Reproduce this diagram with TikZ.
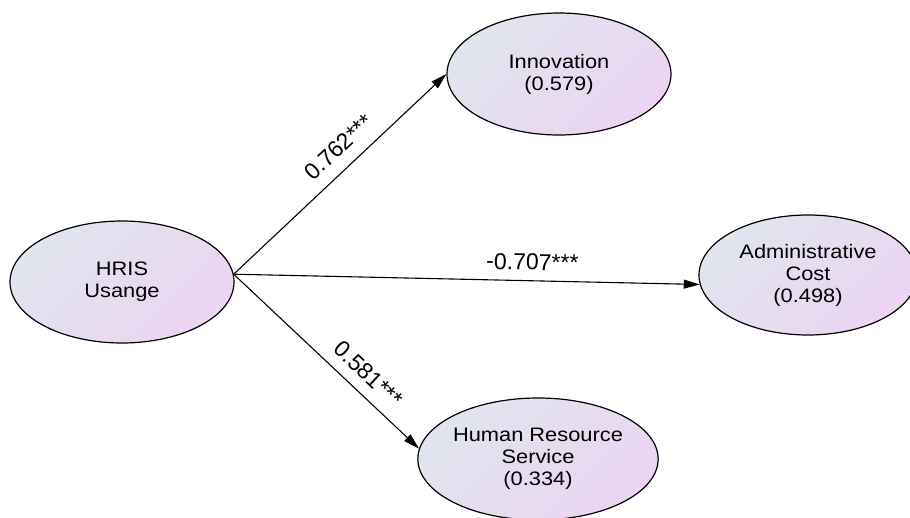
\documentclass[tikz,border=0pt]{standalone}
\usepackage{fontspec}
\setmainfont{Liberation Sans}
\newfontfamily\nodefont[FakeStretch=1.12]{Liberation Sans}
\usetikzlibrary{shapes.geometric,arrows.meta}
\definecolor{shadeA}{RGB}{224,229,238}
\definecolor{shadeB}{RGB}{236,212,242}
\begin{document}
\begin{tikzpicture}[x=1pt,y=-1pt,
  latent/.style={ellipse, draw=black, line width=1.2pt, inner sep=0pt,
    minimum width=224pt, minimum height=122pt,
    top color=shadeA, bottom color=shadeB, shading angle=45,
    align=center, font=\nodefont\fontsize{19.5}{22}\selectfont},
  pathline/.style={line width=1.1pt, -{Triangle[length=16pt,width=9pt]}},
  coef/.style={font=\fontsize{23}{26}\selectfont, inner sep=0pt, sloped}]
\useasboundingbox (0,0) rectangle (910,517);
\clip (0,0) rectangle (910,517);
\node[latent] (hris) at (122,282) {HRIS\\Usange};
\node[latent] (inno) at (559,74) {Innovation\\(0.579)};
\node[latent, minimum width=218pt, minimum height=120pt] (admin) at (808,275) {Administrative\\Cost\\(0.498)};
\node[latent] (hrs) at (538,459) {Human Resource\\Service\\(0.334)};
\draw[pathline] (hris.4) -- (inno.west) node[coef, pos=0.56, above=12pt] {0.762***};
\draw[pathline] (hris.4) -- (admin.185) node[coef, pos=0.64, above=10pt] {-0.707***};
\draw[pathline] (hris.4) -- (hrs.175) node[coef, pos=0.655, above=11pt] {0.581***};
\end{tikzpicture}
\end{document}
